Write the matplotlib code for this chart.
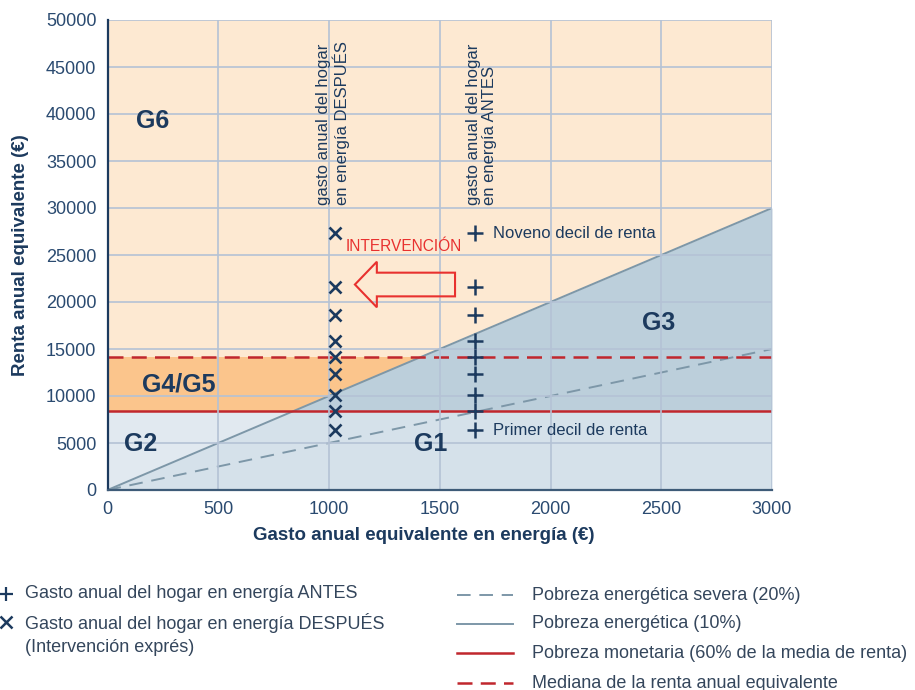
import numpy as np
import matplotlib
matplotlib.use("Agg")
import matplotlib.pyplot as plt
from matplotlib.lines import Line2D
from matplotlib.patches import FancyArrow

plt.rcParams['font.family'] = ['Liberation Sans', 'DejaVu Sans']

# ---- data ----
x_ticks = [0, 500, 1000, 1500, 2000, 2500, 3000]
y_ticks = [0, 5000, 10000, 15000, 20000, 25000, 30000, 35000, 40000, 45000, 50000]
gasto_antes = 1660
gasto_despues = 1027
deciles_renta = [6350, 8450, 10100, 12350, 14180, 15800, 18600, 21600, 27300]
umbral_pobreza_monetaria = 8420
mediana_renta = 14180
pct_pobreza_energetica = 0.10
pct_pobreza_severa = 0.20
grupos = ["G6", "G4/G5", "G2", "G1", "G3"]
grupos_pos = [(205, 39300), (320, 11200), (150, 4900), (1460, 4900), (2490, 17800)]

NAVY = '#1c3a5e'
TICK = '#2a4a70'
RED = '#c0272d'
BRIGHT_RED = '#e8312f'
GREY_LINE = '#7d97a8'
LEG_TXT = '#34465c'

fig = plt.figure(figsize=(9.15, 6.9), dpi=100)
ax = fig.add_axes([107.5/915, 1-490/690, (772-107.5)/915, (490-20)/690])

xmax = x_ticks[-1]
ymax = y_ticks[-1]
ax.set_xlim(0, xmax)
ax.set_ylim(0, ymax)

# background regions
ax.set_facecolor('#fde9d2')
xb = np.array([0, umbral_pobreza_monetaria * pct_pobreza_energetica, xmax])
line10 = xb / pct_pobreza_energetica
ax.fill_between([0, xmax], umbral_pobreza_monetaria, mediana_renta, color='#fbc58c', lw=0, zorder=0.5)
ax.fill_between([0, xmax], 0, umbral_pobreza_monetaria, color='#e1e9f0', lw=0, zorder=0.5)
ax.fill_between(xb, 0, np.minimum(line10, umbral_pobreza_monetaria), color='#d5e1ea', lw=0, zorder=0.6)
ax.fill_between(xb, umbral_pobreza_monetaria, np.maximum(line10, umbral_pobreza_monetaria),
                color='#bccfdb', lw=0, zorder=0.6)

# grid
ax.set_xticks(x_ticks)
ax.set_yticks(y_ticks)
ax.grid(True, color='#b4c2d5', lw=1.2, zorder=0.8)
ax.set_axisbelow(False)
for gl in ax.get_xgridlines() + ax.get_ygridlines():
    gl.set_zorder(0.8)

# energy poverty lines
xl = np.array([0, xmax])
ax.plot(xl, xl / pct_pobreza_energetica, color=GREY_LINE, lw=1.4, zorder=2)
ax.plot(xl, xl / pct_pobreza_severa, color=GREY_LINE, lw=1.4, dashes=(7, 4.5), zorder=2)

# monetary lines
ax.axhline(umbral_pobreza_monetaria, color=RED, lw=1.8, zorder=2.5)
ax.axhline(mediana_renta, color=RED, lw=1.8, dashes=(6, 3.3), zorder=2.5)

# markers
ax.plot([gasto_antes] * len(deciles_renta), deciles_renta, ls='none', marker='+',
        ms=11, mew=1.8, color=NAVY, zorder=4)
ax.plot([gasto_despues] * len(deciles_renta), deciles_renta, ls='none', marker='x',
        ms=8, mew=1.9, color=NAVY, zorder=4)

# annotations
ax.text(gasto_antes + 80, deciles_renta[-1], "Noveno decil de renta", fontsize=12,
        color=NAVY, va='center', ha='left', zorder=5)
ax.text(gasto_antes + 80, deciles_renta[0], "Primer decil de renta", fontsize=12,
        color=NAVY, va='center', ha='left', zorder=5)
ax.text(1020, 30300, "gasto anual del hogar\nen energía DESPUÉS", rotation=90, fontsize=12,
        color=NAVY, ha='center', va='bottom', multialignment='left', linespacing=1.1, zorder=5)
ax.text(1687, 30300, "gasto anual del hogar\nen energía ANTES", rotation=90, fontsize=12,
        color=NAVY, ha='center', va='bottom', multialignment='left', linespacing=1.1, zorder=5)
ax.text(1337, 25880, "INTERVENCIÓN", fontsize=11.2, color=BRIGHT_RED, ha='center', va='center', zorder=5)
arrow = FancyArrow(1569, 21860, 1117 - 1569, 0, width=2520, head_width=4850, head_length=99,
                   length_includes_head=True, fc='none', ec=BRIGHT_RED, lw=1.5, zorder=5)
ax.add_patch(arrow)

for g, (gx, gy) in zip(grupos, grupos_pos):
    ax.text(gx, gy, g, fontsize=18, fontweight='bold', color=NAVY, ha='center', va='center', zorder=5)

# axes styling
for s in ['top', 'right']:
    ax.spines[s].set_visible(False)
ax.spines['left'].set_color(NAVY)
ax.spines['left'].set_linewidth(1.6)
ax.spines['bottom'].set_color('#3e5b78')
ax.spines['bottom'].set_linewidth(1.6)
ax.spines['left'].set_zorder(6)
ax.spines['bottom'].set_zorder(6)
ax.tick_params(axis='both', length=0, labelsize=13, labelcolor=TICK)
ax.tick_params(axis='y', pad=8)
ax.tick_params(axis='x', pad=8)

ax.set_ylabel("Renta anual equivalente (€)", fontsize=13.5, fontweight='bold', color=NAVY, labelpad=12)
fig.text(424/915, 1 - 535/690, "Gasto anual equivalente en energía (€)", fontsize=13.5,
         fontweight='bold', color=NAVY, ha='center', va='center')

# legend (figure coords)
def fy(py):
    return 1 - py / 690

fig.add_artist(Line2D([6/915], [fy(594)], transform=fig.transFigure, marker='+', ms=10.5,
                      mew=1.6, color=NAVY, ls='none'))
fig.add_artist(Line2D([6/915], [fy(622)], transform=fig.transFigure, marker='x', ms=8,
                      mew=1.8, color=NAVY, ls='none'))
fig.text(25/915, fy(594), "Gasto anual del hogar en energía ANTES", fontsize=13,
         color=LEG_TXT, ha='left', va='center')
fig.text(25/915, fy(623), "Gasto anual del hogar en energía DESPUÉS", fontsize=13,
         color=LEG_TXT, ha='left', va='center')
fig.text(25/915, fy(647), "(Intervención exprés)", fontsize=13,
         color=LEG_TXT, ha='left', va='center')

leg_items = [
    ("Pobreza energética severa (20%)", GREY_LINE, (7, 4.5), 1.4),
    ("Pobreza energética (10%)", GREY_LINE, None, 1.4),
    ("Pobreza monetaria (60% de la media de renta)", RED, None, 1.8),
    ("Mediana de la renta anual equivalente", RED, (6, 3.3), 1.8),
]
rows = [595, 624, 653, 683]
for (lab, col, dsh, lw), py in zip(leg_items, rows):
    kw = dict(color=col, lw=lw, transform=fig.transFigure)
    if dsh is not None:
        kw['dashes'] = dsh
    fig.add_artist(Line2D([457/915, 513/915], [fy(py), fy(py)], **kw))
    fig.text(532/915, fy(py), lab, fontsize=13, color=LEG_TXT, ha='left', va='center')

fig.savefig("out.png", dpi=100)
